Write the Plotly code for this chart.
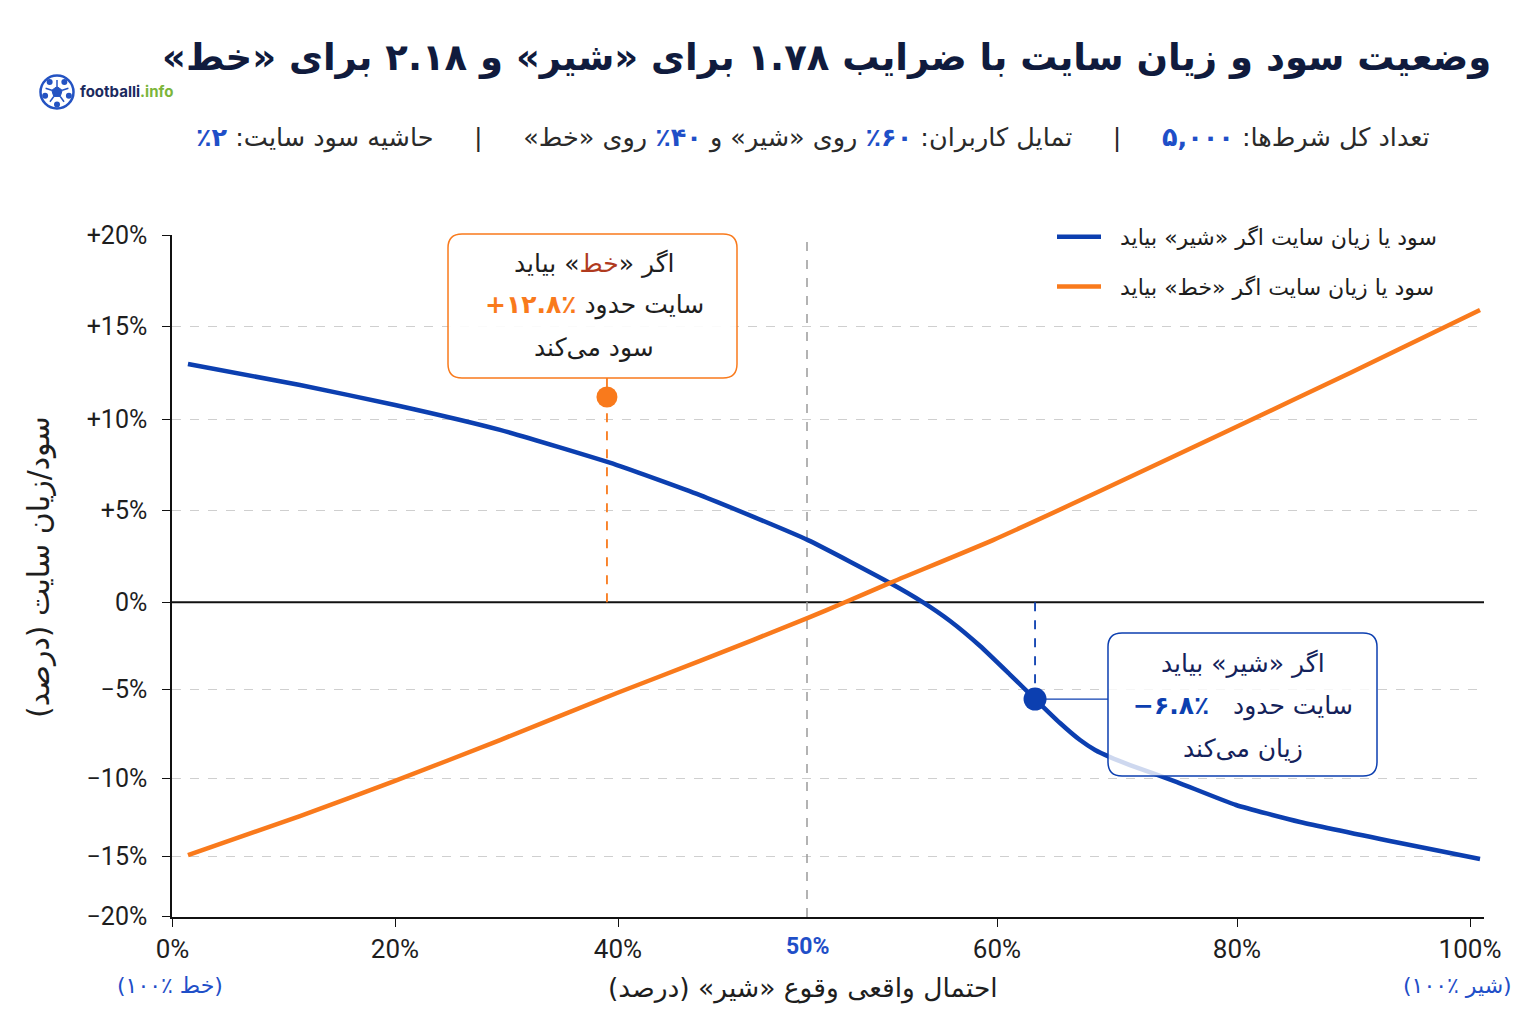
import numpy as np
import plotly.graph_objects as go

# ---------------- data ----------------
prob_lion_line = [1.39, 11.46, 20.0, 29.42, 39.9, 44.34, 50.05, 54.37, 56.11, 57.53, 59.11,
                  61.08, 63.17, 65.25, 66.92, 68.17, 69.42, 71.08, 75.0, 79.92, 85.41, 93.99, 100.86]
pl_if_lion = [12.98, 11.84, 10.76, 9.40, 7.47, 5.82, 3.37, 1.05, 0.0, -1.07, -2.51,
              -4.15, -5.55, -6.90, -7.86, -8.42, -8.82, -9.27, -10.26, -11.73, -12.82, -14.17, -15.25]

prob_tail_line = [1.39, 11.46, 20.0, 29.42, 39.91, 44.34, 50.05, 52.0, 54.37, 59.79,
                  68.58, 79.92, 89.70, 100.86]
pl_if_tail = [-14.94, -12.44, -10.19, -7.86, -5.21, -3.37, -0.90, 0.0, 1.05, 3.37,
              6.04, 9.56, 12.49, 15.91]

marker_prob = [39.01, 63.17]
marker_pl = [11.19, -5.55]

x_tick_vals = [0, 20, 40, 60, 80, 100]
x_tick_text = ["0%", "20%", "40%", "60%", "80%", "100%"]
y_tick_vals = [-20, -15, -10, -5, 0, 5, 10, 15, 20]
y_tick_text = ["\u221220%", "\u221215%", "\u221210%", "\u22125%", "0%", "+5%", "+10%", "+15%", "+20%"]

# ---------------- non-uniform scale of the reference axes ----------------
X_SCALE_VALS = [0, 20, 40, 50, 60, 80, 100]
X_SCALE_POS = [172.5, 395, 618, 807, 997, 1237, 1470]
Y_SCALE_VALS = [-20, -15, -10, -5, 0, 5, 10, 15, 20]
Y_SCALE_POS = [916.7, 856, 778, 689.3, 602.3, 510, 419, 326.7, 235]


def piecewise(v, src, dst):
    v = np.atleast_1d(np.asarray(v, float))
    src = np.asarray(src, float)
    dst = np.asarray(dst, float)
    out = np.interp(v, src, dst)
    lo = v < src[0]
    hi = v > src[-1]
    out[lo] = dst[0] + (v[lo] - src[0]) * (dst[1] - dst[0]) / (src[1] - src[0])
    out[hi] = dst[-1] + (v[hi] - src[-1]) * (dst[-1] - dst[-2]) / (src[-1] - src[-2])
    return out


def fx(v):
    return piecewise(v, X_SCALE_VALS, X_SCALE_POS)


def fy(v):
    return piecewise(v, Y_SCALE_VALS, Y_SCALE_POS)


W, H = 1536, 1024
L, R, T, B = 172, 1484, 235, 917


def ax(p):
    return (p - L) / (R - L)


def ay(p):
    return (B - p) / (B - T)


def rrect(x0, y0, x1, y1, r):
    def P(x, y):
        return f"{ax(x):.5f},{ay(y):.5f}"
    return (f"M {P(x0 + r, y0)} L {P(x1 - r, y0)} Q {P(x1, y0)} {P(x1, y0 + r)} "
            f"L {P(x1, y1 - r)} Q {P(x1, y1)} {P(x1 - r, y1)} L {P(x0 + r, y1)} "
            f"Q {P(x0, y1)} {P(x0, y1 - r)} L {P(x0, y0 + r)} Q {P(x0, y0)} {P(x0 + r, y0)} Z")


RLM = "\u200f"
BLUE = "#0c3fb0"
ORANGE = "#f97a1c"
NAVY = "#101b3d"
TXT = "#1e1e1e"
AR = "DejaVu Sans"
LAT = "Roboto"

fig = go.Figure()

fig.add_trace(go.Scatter(
    x=fx(prob_lion_line), y=fy(pl_if_lion), mode="lines",
    line=dict(color=BLUE, width=4.5, shape="spline", smoothing=0.5),
    name="  " + RLM + "سود یا زیان سایت اگر «شیر» بیاید" + RLM, legendgroup="a", hoverinfo="skip"))
fig.add_trace(go.Scatter(
    x=fx(prob_tail_line), y=fy(pl_if_tail), mode="lines",
    line=dict(color=ORANGE, width=4.5, shape="spline", smoothing=0.5),
    name="  " + RLM + "سود یا زیان سایت اگر «خط» بیاید" + RLM, legendgroup="b", hoverinfo="skip"))
fig.add_trace(go.Scatter(
    x=fx(marker_prob), y=fy(marker_pl), mode="markers",
    marker=dict(color=[ORANGE, BLUE], size=[21, 23], opacity=1, line=dict(width=0)),
    opacity=1, showlegend=False, hoverinfo="skip", cliponaxis=False))

shapes = []
# zero line
shapes.append(dict(type="line", xref="x", yref="y", x0=L, x1=R, y0=fy(0)[0], y1=fy(0)[0],
                   line=dict(color="#111111", width=2), layer="between"))
# 50% reference line
shapes.append(dict(type="line", xref="x", yref="y", x0=fx(50)[0], x1=fx(50)[0], y0=B, y1=T,
                   line=dict(color="#9a9a9a", width=1.5, dash="dash"), layer="between"))
# connectors
ox, oy = fx(marker_prob[0])[0], fy(marker_pl[0])[0]
bx, by = fx(marker_prob[1])[0], fy(marker_pl[1])[0]
shapes.append(dict(type="line", xref="x", yref="y", x0=ox, x1=ox, y0=fy(0)[0], y1=oy,
                   line=dict(color=ORANGE, width=1.8, dash="dash"), layer="between"))
shapes.append(dict(type="line", xref="paper", yref="paper", x0=ax(ox), x1=ax(ox), y0=ay(378), y1=ay(oy - 8),
                   line=dict(color=ORANGE, width=1.8)))
shapes.append(dict(type="line", xref="x", yref="y", x0=bx, x1=bx, y0=fy(0)[0], y1=by,
                   line=dict(color=BLUE, width=1.8, dash="dash"), layer="between"))
shapes.append(dict(type="line", xref="paper", yref="paper", x0=ax(bx + 10), x1=ax(1108), y0=ay(by), y1=ay(by),
                   line=dict(color=BLUE, width=1.3)))
# annotation boxes
shapes.append(dict(type="path", xref="paper", yref="paper", path=rrect(448, 234, 737, 378, 14),
                   line=dict(color=ORANGE, width=1.5), fillcolor="rgba(255,255,255,0.92)"))
shapes.append(dict(type="path", xref="paper", yref="paper", path=rrect(1108, 633, 1377, 776, 14),
                   line=dict(color=BLUE, width=1.5), fillcolor="rgba(255,255,255,0.8)"))

# logo
cx, cy, r = 57, 92, 16.5
shapes.append(dict(type="circle", xref="paper", yref="paper", x0=ax(cx - r), x1=ax(cx + r),
                   y0=ay(cy + r), y1=ay(cy - r), line=dict(color="#2453c2", width=2.5), fillcolor="white"))
ang = np.deg2rad(np.arange(5) * 72 - 90)
pent = " L ".join(f"{ax(cx + 5.5 * np.cos(a)):.5f},{ay(cy + 5.5 * np.sin(a)):.5f}" for a in ang)
shapes.append(dict(type="path", xref="paper", yref="paper", path="M " + pent + " Z",
                   line=dict(color="#2453c2", width=1), fillcolor="#2453c2"))
for a in ang:
    shapes.append(dict(type="line", xref="paper", yref="paper",
                       x0=ax(cx + 5.5 * np.cos(a)), y0=ay(cy + 5.5 * np.sin(a)),
                       x1=ax(cx + 12 * np.cos(a)), y1=ay(cy + 12 * np.sin(a)),
                       line=dict(color="#2453c2", width=1.5)))
    a2 = a + np.deg2rad(36)
    shapes.append(dict(type="circle", xref="paper", yref="paper",
                       x0=ax(cx + 12.5 * np.cos(a2) - 3), x1=ax(cx + 12.5 * np.cos(a2) + 3),
                       y0=ay(cy + 12.5 * np.sin(a2) + 3), y1=ay(cy + 12.5 * np.sin(a2) - 3),
                       line=dict(width=0), fillcolor="#2453c2"))

ann = []


def A(x, y, text, size, color=TXT, xanchor="center", family=AR, **kw):
    ann.append(dict(x=ax(x), y=ay(y), xref="paper", yref="paper", text=text, showarrow=False,
                    xanchor=xanchor, yanchor="middle", font=dict(family=family, size=size, color=color), **kw))


A(1493, 57, "<b>" + RLM + "وضعیت سود و زیان سایت با ضرایب ۱.۷۸ برای «شیر» و ۲.۱۸ برای «خط»" + RLM + "</b>",
  37, NAVY, xanchor="right")
A(78, 92, "<b>footballi</b><b><span style='color:#7cb53a'>.info</span></b>", 15, "#1b2a5e",
  xanchor="left", family="Inter")

bl = "<span style='color:#1f4fc8'><b>%s</b></span>"
sub = (RLM + "تعداد کل شرط‌ها: " + bl % "۵,۰۰۰" + "     |     تمایل کاربران: " + bl % "۶۰٪"
       + " روی «شیر» و " + bl % "۴۰٪" + " روی «خط»     |     حاشیه سود سایت: " + bl % "۲٪" + RLM)
A(1432, 138, sub, 25.5, "#2a2a2a", xanchor="right")

# orange box text
A(594, 263, RLM + "اگر «<span style='color:#b03a1e'>خط</span>» بیاید" + RLM, 25)
A(594, 305, RLM + "سایت حدود " + "<span style='color:%s'><b>٪۱۲.۸+</b></span>" % ORANGE + RLM, 25)
A(594, 347, RLM + "سود می‌کند" + RLM, 25)
# blue box text
A(1243, 663, RLM + "اگر «شیر» بیاید" + RLM, 25, "#14225a")
A(1243, 706, RLM + "سایت حدود   " + "<span style='color:%s'><b>٪۶.۸\u2212</b></span>" % BLUE + RLM, 25, "#14225a")
A(1243, 748, RLM + "زیان می‌کند" + RLM, 25, "#14225a")

# axis titles and extras
A(38, 567, RLM + "سود/زیان سایت (درصد)" + RLM, 30, TXT, textangle=-90)
A(803, 988, RLM + "احتمال واقعی وقوع «شیر» (درصد)" + RLM, 26.5, TXT)
A(170, 986, RLM + "(خط ٪۱۰۰)" + RLM, 22, "#1f4fc8")
A(1457, 986, RLM + "(شیر ٪۱۰۰)" + RLM, 22, "#1f4fc8")
A(fx(50)[0], 946, "<b>50%</b>", 23, "#1f4fc8", family=LAT)

fig.update_layout(
    width=W, height=H,
    margin=dict(l=L, r=W - R, t=T, b=H - B, pad=0),
    paper_bgcolor="white", plot_bgcolor="white",
    showlegend=True,
    legend=dict(x=ax(1052), y=ay(216), xanchor="left", yanchor="top", bgcolor="rgba(0,0,0,0)",
                font=dict(family=AR, size=22, color=TXT), itemwidth=44, tracegroupgap=18,
                traceorder="grouped"),
    shapes=shapes, annotations=ann,
    xaxis=dict(range=[L, R], tickvals=fx(x_tick_vals), ticktext=x_tick_text, showgrid=False,
               zeroline=False, showline=True, linecolor="#111111", linewidth=1.5,
               ticks="outside", ticklen=8, tickwidth=1.3, tickcolor="#111111",
               tickfont=dict(family=LAT, size=26, color=TXT),
               ticklabelstandoff=0, fixedrange=True),
    yaxis=dict(range=[B, T], tickvals=fy(y_tick_vals), ticktext=y_tick_text, showgrid=True,
               gridcolor="#cfcfcf", griddash="dash", gridwidth=1, zeroline=False,
               showline=True, linecolor="#111111", linewidth=1.5,
               ticks="outside", ticklen=8, tickwidth=1.3, tickcolor="#111111",
               tickfont=dict(family=LAT, size=25, color=TXT), ticklabelstandoff=10, fixedrange=True),
)

fig.write_html("out.html")
